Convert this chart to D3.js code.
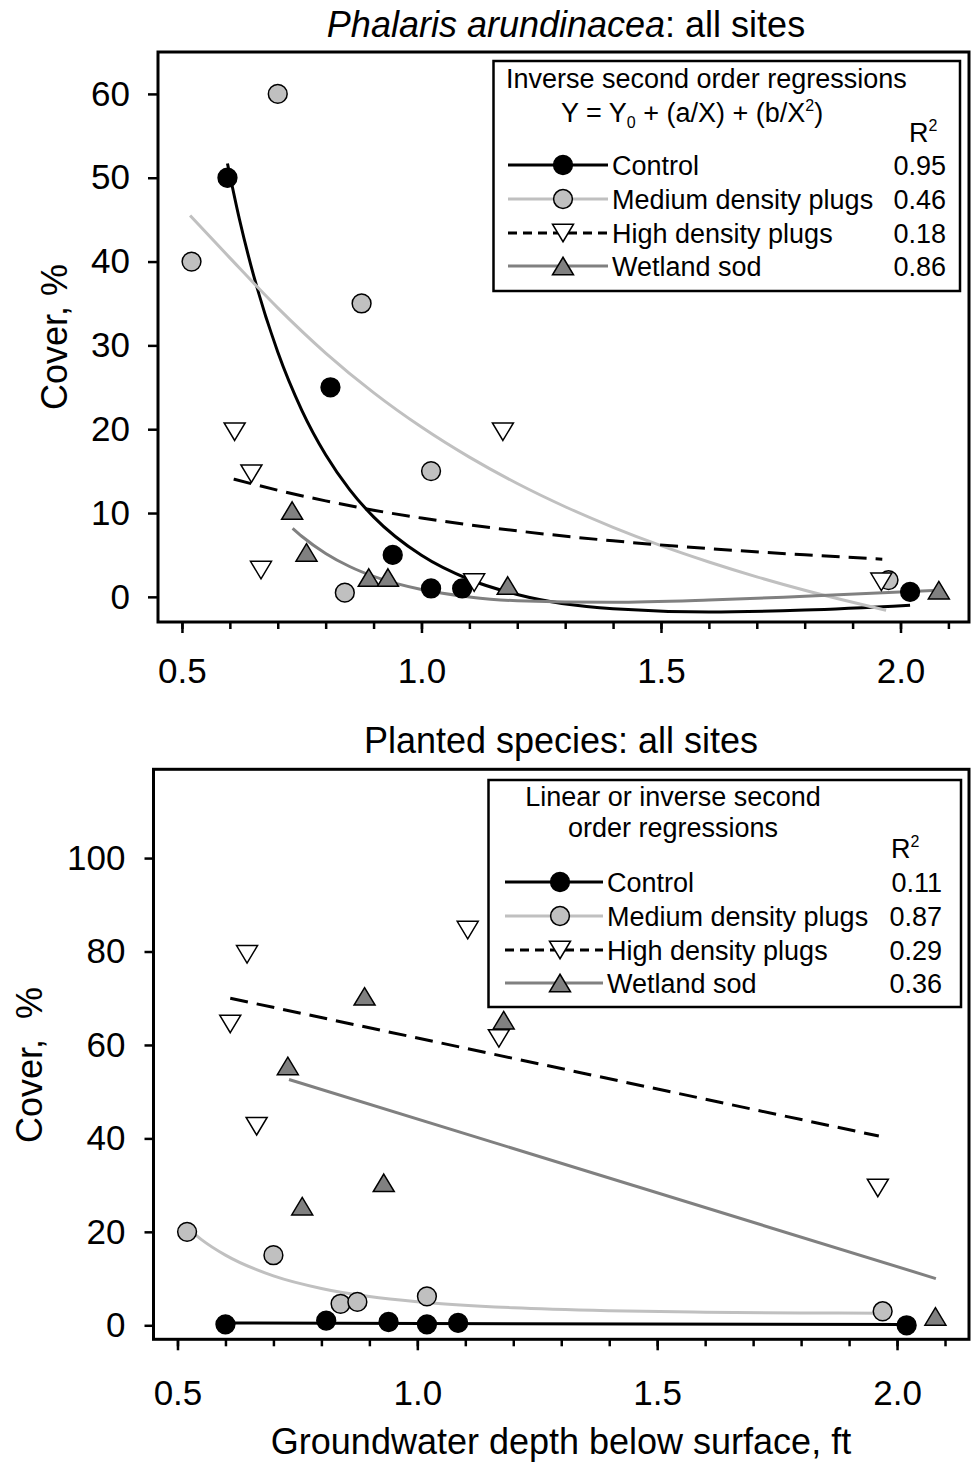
<!DOCTYPE html>
<html>
<head>
<meta charset="utf-8">
<script src="https://cdn.jsdelivr.net/npm/d3@7"></script>
<style>
  body { margin: 0; background: #fff; }
  text { font-family: "Liberation Sans", Arial, sans-serif; fill: #000; }
</style>
</head>
<body>
<div id="chart"></div>
<script>
// legend names and R2 values
var seriesNames = ["Control", "Medium density plugs", "High density plugs", "Wetland sod"];
var r2Phalaris = ["0.95", "0.46", "0.18", "0.86"];
var r2Planted = ["0.11", "0.87", "0.29", "0.36"];

// tick values
var xTickValues = [0.5, 1.0, 1.5, 2.0];
var xMinorTicks = [0.5, 0.6, 0.7, 0.8, 0.9, 1.0, 1.1, 1.2, 1.3, 1.4, 1.5, 1.6, 1.7, 1.8, 1.9, 2.0, 2.1];
var yTicksPhalaris = [0, 10, 20, 30, 40, 50, 60];
var yTicksPlanted = [0, 20, 40, 60, 80, 100];

// Phalaris arundinacea cover, [groundwater depth ft, cover %]
var phalarisControl = [[0.595, 50], [0.81, 25], [0.94, 5], [1.02, 1], [1.085, 1], [2.02, 0.6]];
var phalarisMedium = [[0.52, 40], [0.70, 60], [0.84, 0.5], [0.875, 35], [1.02, 15], [1.975, 2]];
var phalarisHigh = [[0.61, 19.7], [0.645, 14.7], [0.665, 3.2], [1.11, 1.7], [1.17, 19.7], [1.96, 1.8]];
var phalarisSod = [[0.73, 10.3], [0.76, 5.3], [0.89, 2.3], [0.93, 2.3], [1.18, 1.35], [2.08, 0.8]];

// regression curves
var phalarisControlFit = [[0.595, 51.7], [0.62, 45.05], [0.65, 38.25], [0.7, 29.2], [0.75, 22.28], [0.8, 16.95],
  [0.85, 12.8], [0.9, 9.54], [1.0, 4.95], [1.1, 2.07], [1.2, 0.28], [1.4, -1.42], [1.6, -1.8], [1.8, -1.57], [2.02, -0.99]];
var phalarisMediumFit = [[0.517, 45.5], [0.6, 40.44], [0.7, 34.48], [0.8, 29.09], [0.9, 24.37], [1.0, 20.26],
  [1.1, 16.67], [1.2, 13.52], [1.3, 10.75], [1.4, 8.3], [1.5, 6.11], [1.6, 4.16], [1.7, 2.39], [1.8, 0.79], [1.9, -0.65], [1.97, -1.6]];
var phalarisHighFit = [[0.608, 14.05], [0.7, 12.72], [0.8, 11.45], [0.9, 10.34], [1.0, 9.4], [1.2, 7.87],
  [1.4, 6.68], [1.6, 5.76], [1.8, 5.01], [1.962, 4.5]];
var phalarisSodFit = [[0.731, 8.17], [0.75, 7.23], [0.8, 5.18], [0.85, 3.62], [0.9, 2.44], [1.0, 0.87],
  [1.1, -0.01], [1.2, -0.46], [1.4, -0.65], [1.6, -0.39], [1.8, 0.06], [2.068, 0.75]];

// Planted species cover
var plantedControl = [[0.6, 0.2], [0.81, 1], [0.94, 0.7], [1.02, 0.2], [1.085, 0.5], [2.02, 0]];
var plantedMedium = [[0.52, 20], [0.70, 15], [0.84, 4.6], [0.875, 5], [1.02, 6.2], [1.97, 3]];
var plantedHigh = [[0.61, 64.5], [0.645, 79.4], [0.665, 42.6], [1.105, 84.6], [1.17, 61.4], [1.96, 29.4]];
var plantedSod = [[0.73, 55.5], [0.76, 25.5], [0.89, 70.4], [0.93, 30.5], [1.18, 65.3], [2.08, 1.9]];

// regression lines
var plantedControlFit = [[0.597, 0.5], [2.02, 0.15]];
var plantedMediumFit = [[0.52, 20.9], [0.55, 18.34], [0.6, 15.01], [0.7, 10.57], [0.8, 7.88], [0.9, 6.17],
  [1.0, 5.04], [1.2, 3.75], [1.4, 3.11], [1.6, 2.79], [1.8, 2.65], [1.97, 2.59]];
var plantedHighFit = [[0.61, 70], [1.962, 40.5]];
var plantedSodFit = [[0.7325, 52.6], [2.081, 10.0]];

var font = '"Liberation Sans", Arial, sans-serif';

// look of the four series: control, medium, high, sod
var looks = [
  {shape: "circle", fill: "#000000", line: "#000000", dash: null},
  {shape: "circle", fill: "#c0c0c0", line: "#c0c0c0", dash: null},
  {shape: "down", fill: "#ffffff", line: "#000000", dash: "18,9"},
  {shape: "up", fill: "#808080", line: "#808080", dash: null}
];

var svg = d3.select("#chart")
  .append("svg")
    .attr("width", 973)
    .attr("height", 1479);

svg.append("rect")
  .attr("width", 973)
  .attr("height", 1479)
  .attr("fill", "#fff");

function marker(g, shape, fill, cx, cy) {
  if (shape == "circle") {
    g.append("circle")
      .attr("cx", cx).attr("cy", cy).attr("r", 9.4)
      .attr("fill", fill).attr("stroke", "#000").attr("stroke-width", 1.5);
    return;
  }
  var w = 21, h = 17.5;
  var p = shape == "up"
    ? [[cx, cy - h / 2], [cx + w / 2, cy + h / 2], [cx - w / 2, cy + h / 2]]
    : [[cx, cy + h / 2], [cx + w / 2, cy - h / 2], [cx - w / 2, cy - h / 2]];
  g.append("path")
    .attr("d", "M" + p.join("L") + "Z")
    .attr("fill", fill).attr("stroke", "#000").attr("stroke-width", 1.5)
    .attr("stroke-linejoin", "miter");
}

function drawPanel(p) {
  var x = d3.scaleLinear().domain(p.xDomain).range([p.x0, p.x1]);
  var y = d3.scaleLinear().domain(p.yDomain).range([p.y1, p.y0]);

  // minor x ticks
  svg.append("g")
    .attr("transform", "translate(0," + p.y1 + ")")
    .call(d3.axisBottom(x).tickValues(xMinorTicks).tickSize(7).tickFormat(""));

  // major x ticks
  svg.append("g")
    .attr("transform", "translate(0," + p.y1 + ")")
    .attr("class", "maj")
    .call(d3.axisBottom(x).tickValues(xTickValues).tickSize(11).tickPadding(p.xPad)
      .tickFormat(d3.format(".1f")));

  // y ticks
  svg.append("g")
    .attr("transform", "translate(" + p.x0 + ",0)")
    .attr("class", "maj")
    .call(d3.axisLeft(y).tickValues(p.yTicks).tickSize(p.yTickLen).tickPadding(p.yPad));

  svg.selectAll(".domain").remove();
  svg.selectAll(".tick line").attr("stroke-width", 2.5);
  svg.selectAll(".maj text").attr("font-size", 35).attr("font-family", font);

  // frame
  svg.append("rect")
    .attr("x", p.x0).attr("y", p.y0)
    .attr("width", p.x1 - p.x0).attr("height", p.y1 - p.y0)
    .attr("fill", "none").attr("stroke", "#000").attr("stroke-width", 3);

  // title
  var t = svg.append("text")
    .attr("x", p.titleX).attr("y", p.titleY)
    .attr("text-anchor", "middle")
    .attr("font-size", 36);
  p.title.forEach(function(part) {
    t.append("tspan").attr("font-style", part.italic ? "italic" : "normal").text(part.t);
  });

  // y label
  svg.append("text")
    .attr("transform", "translate(" + p.yLabX + "," + p.yLabY + ") rotate(-90)")
    .attr("text-anchor", "middle")
    .attr("font-size", 36)
    .style("white-space", "pre")
    .text(p.yLabel);

  // regression curves
  var line = d3.line()
    .x(function(d) { return x(d[0]); })
    .y(function(d) { return y(d[1]); })
    .curve(d3.curveMonotoneX);
  p.fits.forEach(function(f, i) {
    svg.append("path")
      .attr("d", line(f))
      .attr("fill", "none")
      .attr("stroke", looks[i].line)
      .attr("stroke-width", 3)
      .attr("stroke-dasharray", looks[i].dash);
  });

  // data points
  var gp = svg.append("g");
  p.points.forEach(function(s, i) {
    s.forEach(function(d) {
      marker(gp, looks[i].shape, looks[i].fill, x(d[0]), y(d[1]));
    });
  });

  // legend
  var L = p.legend;
  var lg = svg.append("g").attr("font-size", 27);
  lg.append("rect")
    .attr("x", L.x0).attr("y", L.y0)
    .attr("width", L.x1 - L.x0).attr("height", L.y1 - L.y0)
    .attr("fill", "#fff").attr("stroke", "#000").attr("stroke-width", 2.5);
  L.header.forEach(function(h) {
    var ht = lg.append("text")
      .attr("x", h.x).attr("y", h.y)
      .attr("text-anchor", h.anchor || "start");
    h.parts.forEach(function(part) {
      var ts = ht.append("tspan").text(part.t);
      if (part.sub) ts.attr("font-size", 16).attr("dy", 6);
      if (part.sup) ts.attr("font-size", 16).attr("dy", -11);
      if (part.back) ts.attr("dy", part.back);
    });
  });
  // R2 heading
  var rt = lg.append("text").attr("x", L.rX).attr("y", L.rY);
  rt.append("tspan").text("R");
  rt.append("tspan").attr("font-size", 16).attr("dy", -11).text("2");

  seriesNames.forEach(function(name, i) {
    var cy = L.rows[i];
    lg.append("line")
      .attr("x1", L.lineX0).attr("x2", L.lineX1)
      .attr("y1", cy).attr("y2", cy)
      .attr("stroke", looks[i].line).attr("stroke-width", 3)
      .attr("stroke-dasharray", looks[i].dash ? "9,6" : null);
    marker(lg, looks[i].shape, looks[i].fill, L.markX, cy);
    lg.append("text")
      .attr("x", L.textX).attr("y", cy + 9.5)
      .text(name);
    lg.append("text")
      .attr("x", L.valX).attr("y", cy + 9.5)
      .attr("text-anchor", "end")
      .text(p.r2[i]);
  });
}

drawPanel({
  xDomain: [0.45, 2.143], yDomain: [-3, 65],
  x0: 158, x1: 969, y0: 52, y1: 622,
  xPad: 25, yPad: 18, yTickLen: 10,
  yTicks: yTicksPhalaris,
  title: [{t: "Phalaris arundinacea", italic: true}, {t: ": all sites"}],
  titleX: 566, titleY: 37,
  yLabel: "Cover, %", yLabX: 67, yLabY: 337,
  fits: [phalarisControlFit, phalarisMediumFit, phalarisHighFit, phalarisSodFit],
  points: [phalarisControl, phalarisMedium, phalarisHigh, phalarisSod],
  r2: r2Phalaris,
  legend: {
    x0: 493.5, y0: 61, x1: 960, y1: 291,
    header: [
      {x: 506, y: 88, parts: [{t: "Inverse second order regressions"}]},
      {x: 561, y: 122, parts: [{t: "Y = Y"}, {t: "0", sub: true}, {t: " + (a/X) + (b/X", back: -6}, {t: "2", sup: true}, {t: ")", back: 11}]}
    ],
    rX: 909, rY: 142,
    rows: [165, 199, 233, 266],
    lineX0: 508, lineX1: 608, markX: 563, textX: 612, valX: 946
  }
});

drawPanel({
  xDomain: [0.45, 2.15], yDomain: [-3, 119],
  x0: 153.5, x1: 969, y0: 769.3, y1: 1339.3,
  xPad: 29.5, yPad: 19, yTickLen: 9,
  yTicks: yTicksPlanted,
  title: [{t: "Planted species: all sites"}],
  titleX: 561, titleY: 753,
  yLabel: "Cover,  %", yLabX: 42, yLabY: 1065,
  fits: [plantedControlFit, plantedMediumFit, plantedHighFit, plantedSodFit],
  points: [plantedControl, plantedMedium, plantedHigh, plantedSod],
  r2: r2Planted,
  legend: {
    x0: 488.5, y0: 780, x1: 961, y1: 1007,
    header: [
      {x: 673, y: 806, anchor: "middle", parts: [{t: "Linear or inverse second"}]},
      {x: 673, y: 837, anchor: "middle", parts: [{t: "order regressions"}]}
    ],
    rX: 891, rY: 858,
    rows: [882, 916, 950, 983],
    lineX0: 505, lineX1: 603, markX: 560, textX: 607, valX: 942
  }
});

// shared x axis label
svg.append("text")
  .attr("x", 561).attr("y", 1454)
  .attr("text-anchor", "middle")
  .attr("font-size", 36)
  .text("Groundwater depth below surface, ft");
</script>
</body>
</html>
